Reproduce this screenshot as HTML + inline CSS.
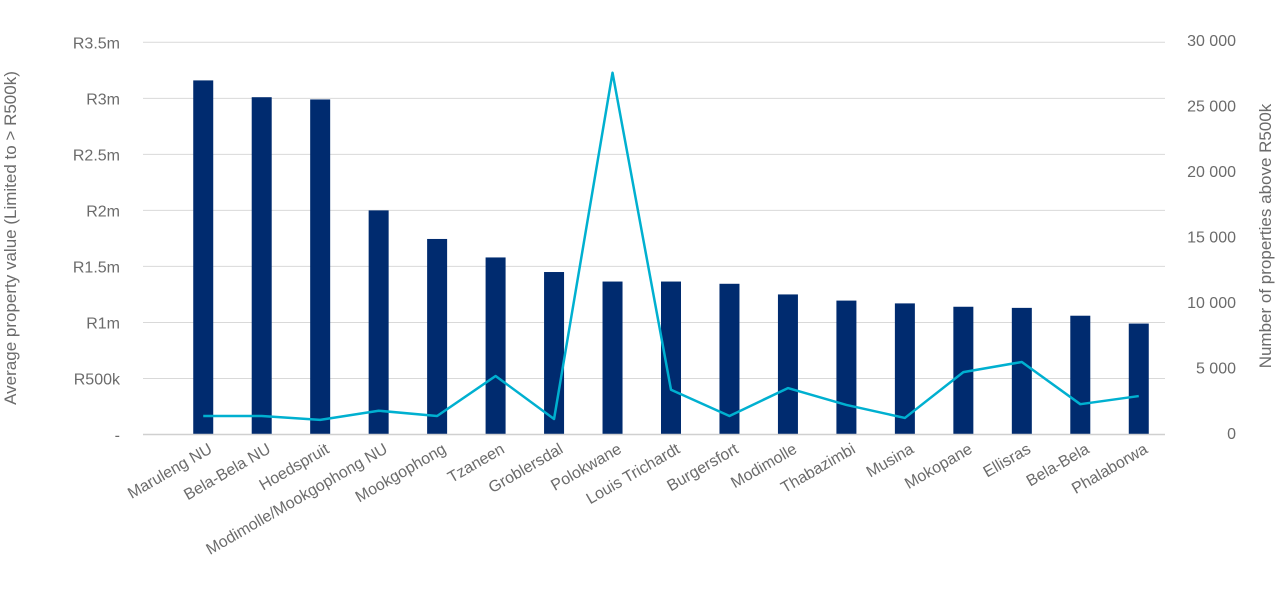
<!DOCTYPE html>
<html><head><meta charset="utf-8"><style>
body{margin:0;background:#fff;}
svg text{font-family:"Liberation Sans",sans-serif;fill:#6b6b6b;}
</style></head><body>
<svg id="chart" width="1280" height="604" xmlns="http://www.w3.org/2000/svg">
<g id="grid"></g>
<g id="bars"></g>
<g id="line"></g>
<g id="axes"></g>
<text transform="translate(16,238) rotate(-90)" text-anchor="middle" font-size="17">Average property value (Limited to &gt; R500k)</text>
<text transform="translate(1271,236) rotate(-90)" text-anchor="middle" font-size="17">Number of properties above R500k</text>
</svg>
<script>
const categories=["Maruleng NU","Bela-Bela NU","Hoedspruit","Modimolle/Mookgophong NU","Mookgophong","Tzaneen","Groblersdal","Polokwane","Louis Trichardt","Burgersfort","Modimolle","Thabazimbi","Musina","Mokopane","Ellisras","Bela-Bela","Phalaborwa"];
const avgValue=[3.16,3.01,2.99,2.0,1.745,1.58,1.45,1.365,1.365,1.345,1.25,1.195,1.17,1.14,1.13,1.06,0.99];
const propCount=[1300,1300,1000,1700,1300,4350,1070,27500,3300,1300,3430,2140,1150,4650,5420,2200,2820];
const leftTicks=["-","R500k","R1m","R1.5m","R2m","R2.5m","R3m","R3.5m"];
const rightTicks=["0","5 000","10 000","15 000","20 000","25 000","30 000"];
const NS="http://www.w3.org/2000/svg";
const y0=434.5, yTop=42.3, gx0=143, gx1=1165, bx0=174, bx1=1168;
const yL=v=>y0-(v/3.5)*(y0-yTop);
const yR=v=>433-(v/30000)*(433-40);
const band=(bx1-bx0)/categories.length;
const xC=i=>bx0+band*(i+0.5);
function mk(t,a,p){const e=document.createElementNS(NS,t);for(const k in a)e.setAttribute(k,a[k]);p.appendChild(e);return e;}
const grid=document.getElementById('grid'),axes=document.getElementById('axes'),bars=document.getElementById('bars'),line=document.getElementById('line');
leftTicks.forEach((t,i)=>{
  const y=yL(i*0.5);
  if(i>0){const g=mk('line',{x1:gx0,x2:gx1,y1:y,y2:y,stroke:'#d9d9d9','stroke-width':1},grid);
  
  }
  const tx=mk('text',{x:120,y:y+6,'text-anchor':'end','font-size':16},axes);tx.textContent=t;
  
  
});
const ax=mk('line',{x1:gx0,x2:gx1,y1:y0,y2:y0,stroke:'#d0d0d0','stroke-width':1.5},axes);


rightTicks.forEach((t,i)=>{
  const tx=mk('text',{x:1236,y:yR(i*5000)+6,'text-anchor':'end','font-size':16},axes);tx.textContent=t;
  
  
});
categories.forEach((c,i)=>{
  const x=xC(i),y=yL(avgValue[i]);
  const r=mk('rect',{x:x-10,y:y,width:20,height:y0-y,fill:'#002b6f'},bars);
  
  
  const tx=mk('text',{'text-anchor':'end','font-size':16,transform:`translate(${x+10},${452}) rotate(-30)`},axes);tx.textContent=c;
  
  
});
const pts=propCount.map((v,i)=>xC(i)+','+yR(v)).join(' ');
const pl=mk('polyline',{points:pts,fill:'none',stroke:'#00b0d0','stroke-width':2.5,'stroke-linejoin':'round'},line);


</script>
</body></html>
